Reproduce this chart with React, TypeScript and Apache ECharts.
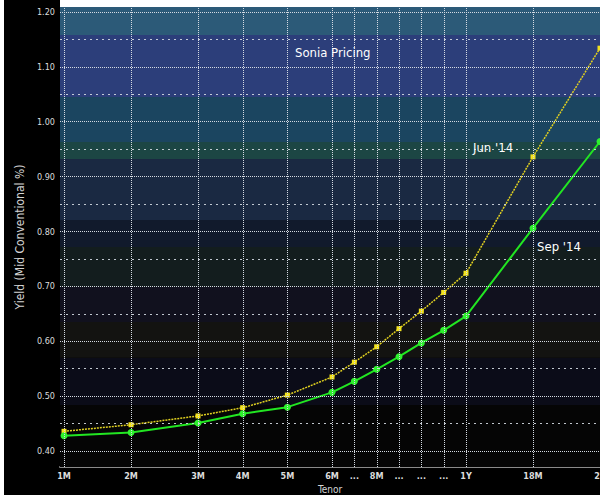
import React, { useEffect, useRef } from "react";
import * as echarts from "echarts";

// ---- data ----
const tenorLabels = ["1M", "2M", "3M", "4M", "5M", "6M", "...", "8M", "...", "...", "...", "1Y", "18M", "2Y"];
const tenorMonths = [1, 2, 3, 4, 5, 6, 7, 8, 9, 10, 11, 12, 18, 24];
const jun14 = [0.436, 0.448, 0.464, 0.479, 0.502, 0.535, 0.562, 0.59, 0.623, 0.655, 0.689, 0.724, 0.936, 1.134];
const sep14 = [0.428, 0.434, 0.451, 0.468, 0.48, 0.507, 0.527, 0.549, 0.572, 0.597, 0.62, 0.646, 0.806, 0.964];
const yLabelValues = [0.4, 0.5, 0.6, 0.7, 0.8, 0.9, 1.0, 1.1, 1.2];
const yMinorValues = [0.45, 0.55, 0.65, 0.75, 0.85, 0.95, 1.05, 1.15];
const bandEdges = [0.37, 0.484, 0.57, 0.635, 0.699, 0.772, 0.821, 0.932, 0.963, 1.045, 1.158, 1.21];
const bandColors = ["#050505", "#0b0c18", "#131311", "#11111e", "#131d1e", "#111a2c", "#1a2942", "#1c4644", "#1b4560", "#2c3e7a", "#2c5a78"];

// piecewise tenor scale (months -> axis position)
const scaleMonths = [1, 3, 6, 12, 24];
const scalePos = [0, 2, 4, 6, 8];
function tenorPos(m: number): number {
  for (let i = 0; i < scaleMonths.length - 1; i++) {
    const a = scaleMonths[i], b = scaleMonths[i + 1];
    if (m <= b) return scalePos[i] + ((m - a) / (b - a)) * (scalePos[i + 1] - scalePos[i]);
  }
  return scalePos[scalePos.length - 1];
}

const FONT = "'DejaVu Sans Condensed', 'DejaVu Sans', sans-serif";

export default function App() {
  const ref = useRef<HTMLDivElement>(null);
  useEffect(() => {
    document.body.style.margin = "0";
    document.body.style.overflow = "hidden";
    document.body.style.background = "#ffffff";
    const chart = echarts.init(ref.current!, null, { renderer: "svg", width: 600, height: 495 });
    const positions = tenorMonths.map(tenorPos);
    const labelFor = (v: number) => {
      const i = positions.findIndex((p) => Math.abs(p - v) < 1e-6);
      return i >= 0 ? tenorLabels[i] : "";
    };
    const bands = bandColors.map((c, i) => [
      { yAxis: bandEdges[i], itemStyle: { color: c } },
      { yAxis: bandEdges[i + 1] },
    ]);
    const gridColor = "#d4dae2";
    const gridLines = [
      ...yLabelValues.map((v) => ({ yAxis: v, lineStyle: { type: [1, 1], color: gridColor, width: 1, opacity: 1 } })),
      ...yMinorValues.map((v) => ({ yAxis: v, lineStyle: { type: [2, 4], color: gridColor, width: 1, opacity: 0.9 } })),
      ...positions.map((p) => ({ xAxis: p, lineStyle: { type: [1, 1], color: gridColor, width: 1, opacity: 1 } })),
    ];
    chart.setOption({
      animation: false,
      backgroundColor: "#000000",
      grid: { left: 60, right: 0, top: 7, bottom: 28, containLabel: false, outerBoundsMode: "none" },
      xAxis: {
        type: "value",
        min: -0.06,
        max: 8,
        name: "Tenor",
        nameLocation: "middle",
        nameGap: 15,
        nameTextStyle: { color: "#d4d4d4", fontSize: 10, fontFamily: FONT },
        axisLine: { show: true, lineStyle: { color: "#8a8a8a", width: 2 } },
        axisTick: { show: false },
        splitLine: { show: false },
        axisLabel: {
          customValues: positions,
          formatter: (v: number) => labelFor(v),
          color: "#dcdcdc",
          fontSize: 9,
          fontWeight: "bold",
          fontFamily: FONT,
          margin: 4,
          hideOverlap: false,
          showMinLabel: true,
          showMaxLabel: true,
        },
      },
      yAxis: {
        type: "value",
        min: 0.371,
        max: 1.209,
        name: "Yield (Mid Conventional %)",
        nameLocation: "middle",
        nameGap: 30,
        nameTextStyle: { color: "#d4d4d4", fontSize: 12, fontFamily: FONT },
        axisLine: { show: true, lineStyle: { color: "#e6e6e6", width: 1 } },
        axisTick: {
          show: true,
          customValues: [...yLabelValues, ...yMinorValues],
          length: 3,
          lineStyle: { color: "#e6e6e6", width: 2 },
        },
        splitLine: { show: false },
        axisLabel: {
          customValues: yLabelValues,
          formatter: (v: number) => v.toFixed(2),
          color: "#dcdcdc",
          fontSize: 9,
          fontFamily: FONT,
          margin: 5,
        },
      },
      graphic: [
        { type: "rect", shape: { x: 0, y: 0, width: 4, height: 495 }, style: { fill: "#ffffff" }, z: 100 },
        { type: "rect", shape: { x: 60, y: 0, width: 540, height: 7 }, style: { fill: "#ffffff" }, z: 100 },
        { type: "text", left: 295, top: 46, style: { text: "Sonia Pricing", fill: "#ffffff", font: `13px ${FONT}` }, z: 100 },
        { type: "text", left: 473, top: 141, style: { text: "Jun '14", fill: "#ffffff", font: `13px ${FONT}` }, z: 100 },
        { type: "text", left: 537, top: 240, style: { text: "Sep '14", fill: "#ffffff", font: `13px ${FONT}` }, z: 100 },
      ],
      series: [
        {
          type: "line",
          data: [],
          z: 1,
          silent: true,
          markArea: { silent: true, data: bands },
          markLine: { silent: true, symbol: "none", label: { show: false }, data: gridLines },
        },
        {
          name: "Jun '14",
          type: "line",
          z: 3,
          data: positions.map((p, i) => [p, jun14[i]]),
          symbol: "rect",
          symbolSize: 5,
          itemStyle: { color: "#f2e21e" },
          lineStyle: { color: "#e0d020", width: 1.5, type: [2, 1] },
        },
        {
          name: "Sep '14",
          type: "line",
          z: 4,
          data: positions.map((p, i) => [p, sep14[i]]),
          symbol: "circle",
          symbolSize: 7,
          itemStyle: { color: "#2ef02e" },
          lineStyle: { color: "#22e622", width: 2 },
        },
      ],
    });
    return () => chart.dispose();
  }, []);
  return (
    <div
      ref={ref}
      style={{ position: "absolute", left: 0, top: 0, width: 600, height: 495, overflow: "hidden" }}
    />
  );
}
